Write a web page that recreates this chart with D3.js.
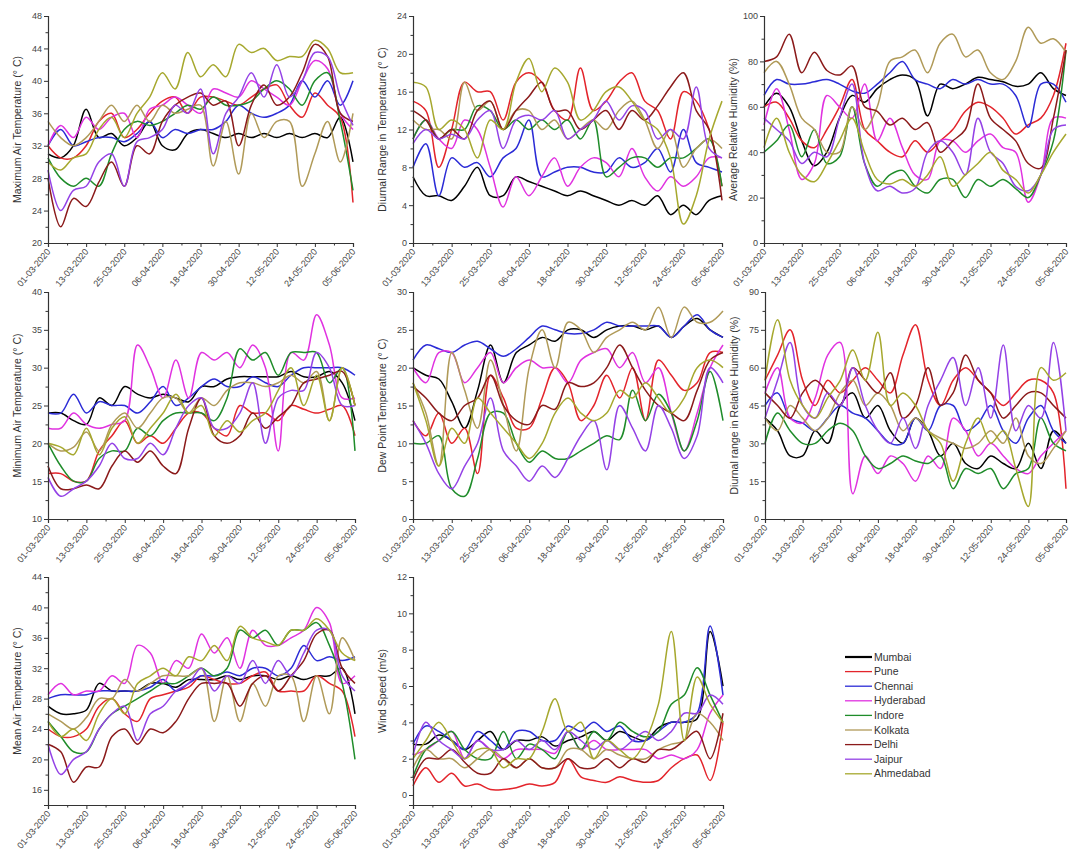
<!DOCTYPE html>
<html><head><meta charset="utf-8">
<script src="https://cdn.jsdelivr.net/npm/d3@7"></script>
<style>body{margin:0;background:#fff} svg{font-family:"Liberation Sans",Arial,sans-serif}</style>
</head><body><svg id="c" width="1073" height="855"></svg>
<script>
// ---- DATA ----
const days = [0,4,8,12,16,20,24,28,32,36,40,44,48,52,56,60,64,68,72,76,80,84,88,92,96]; // days after 01-03-2020
const tickDays = [0,12,24,36,48,60,72,84,96];
const cities = ["Mumbai","Pune","Chennai","Hyderabad","Indore","Kolkata","Delhi","Jaipur","Ahmedabad"];
const colors = ["#000000","#e3242b","#2b2bd6","#e032e0","#1f8c2a","#b09a58","#8b1a1a","#9442e6","#a6a82e"];

const maxTemp = [
 [31,30.5,32,36.5,33,33.5,32,33,35,32,31.5,33.5,34,33.5,33,33.5,33,33.5,33,33.5,33,33.5,33,35.5,30],
 [32,30.5,30.5,32,35,36,33,34,36,37.5,38,36,38,38,37.5,37,38,39,39.5,37,35.5,38.5,37,35.5,25],
 [32,34,32,32.5,33,33,32.5,33.5,35,33,34,33.5,34,34,35,37,36,35.5,36,37,40,38,40,37,40],
 [32,34.5,33,35.5,34,35.5,36,33,36.5,37,38,37,36,39,38.5,38,40,39,38,37,40,42.5,41.5,36,34],
 [30.5,28,27,28,27,31,34,35,34.5,35,36,37,36.5,38,37,37,37.5,39,40,39,37,40,41,35,26.5],
 [35,33,32,33,35,37,35,37,35,37,36,36.5,37,29.5,35,28.5,36,33,35,35,27,31,35,30,36],
 [28,22,25.5,24.5,27.5,30,27,32,31,35,37,38,38.5,37,37.5,32,37,39.5,37,38,41,44.5,43,36,35],
 [29,24,26.5,27,30,31,27,32.5,33,34,37,36,39,31,36,38,41,38,42,38,40,43.5,43,38,34.5],
 [30,29,30.5,31,34,35.5,33,36,38,41,39,43.5,40.5,42,40.5,44.5,43.5,44,42.5,43,43,45,44,41,41]
];
const diurnalTemp = [
 [7,5,5,4.5,6,8,5,5,7,6.5,6,5.5,5,5.5,5,4.5,4,4.5,4,5,3,4,3,4.5,5],
 [15,14,8,12,17,16,16,13,17,18,17,14,13,18.5,14,15,17,18,15,14,11,16,15,12,6],
 [8,10.5,5,9,8,8.5,7,9,10,13,7,7.5,8,8,7.5,7.5,9,8,8.5,10,7.5,12,8.5,8,7.5],
 [11,13,11,10,13,12,8,3.8,7,5,7,9,6,8,9,8.5,7,10,7,5.5,7,6,7,9,9],
 [11,13,11,12,12,14.5,14,12,13,12,13,12,13,11,13,7,8,9,9,8,9,9,10,11,6],
 [13,12,12,11,17,14,15,12,14,14,12,13,11,12,13,12,14,15,13,10,12,8,10,11,10],
 [14,13,11,12,11,14,15,12,14,15.5,17,14,14,12,13,14,12,14,13,14.5,16.5,18,14,12,4.5],
 [10.5,12,11,11.5,11,13,14,10,13,13.5,13,14,11,12,13,15,13,14.5,14,11,12,11,16.5,10,9],
 [17,16.5,12,13,12,9,13,12,17,19.5,16,18.5,17,13,14,16,16.5,15,13,12,9,2,5,11,15]
];
const avgRH = [
 [60,66,60,45,34,40,55,65,62,68,72,74,72,56,70,68,70,73,72,71,69,70,75,68,65],
 [60,62,55,45,42,50,60,72,50,45,40,38,45,40,45,50,58,62,60,55,48,52,55,65,88],
 [65,72,70,70,71,72,70,67,66,70,75,80,72,70,68,72,70,72,70,70,65,51,70,70,62],
 [52,68,50,28,35,65,60,55,70,45,55,42,30,28,45,45,40,45,48,42,40,18,30,55,55],
 [40,45,52,38,50,35,38,60,35,25,30,32,25,22,28,28,20,28,25,28,24,20,30,45,85],
 [75,80,70,55,50,40,40,60,50,60,80,82,85,75,88,92,82,85,75,72,80,95,88,90,84],
 [80,82,92,75,84,76,74,78,60,58,52,55,50,53,40,45,50,70,55,50,45,35,33,55,85],
 [55,50,45,35,40,38,55,70,35,23,25,22,24,40,45,40,30,55,40,35,25,23,30,50,52],
 [42,55,40,30,27,35,45,55,40,28,26,28,25,30,38,25,30,35,40,32,28,22,30,40,48]
];
const minTemp = [
 [24,24,23,22.5,26,25,27.5,26.5,26,26.5,26,25.5,27.5,27.5,28.5,28.8,28.8,28.8,28.8,29.5,28.8,28.8,29.5,28,23],
 [16,16,15,15,19,21,23,20,21,20,22,24,24,22,21,25,24,24,23,25,24.5,24,24.5,25,21],
 [24,24,26.5,24,25.5,25,25,24,25.5,27.5,25,26,27.5,28.5,27.5,27.5,28.8,28,27.5,29,30,30,30,30,29],
 [22,22,24,22.5,22,22.5,23,33,30,26,31,26,32,31,32,30,33,30,19,32,31,37,33,26,26],
 [20,17,15,15,18,19,19,22,21,23,24,24,24,23,26,32.5,31,32,29,32,32,32,28,30,19],
 [20,19,19.5,21.5,19,22.5,24,22,24,26,26,24,26,25,27,28,28,27.5,28,29,28,29.5,23,30,25],
 [17,14,14,14.5,14,17,19,17.5,19,17,16,22,26,21,20,21,24,22,23.5,25,28,28.5,29,29.5,25],
 [15.5,13,14,15,17,20,18,18,20,18.5,22,25,26,22,22,24,28,20,26,27,27,32,30,25,25],
 [20,19.5,18.5,22,18.5,22,23.5,20,22,24,26.5,24,25,21,23,21.5,23,24,27,30,25,29,23,30,25]
];
const dewPoint = [
 [20,19,18.5,15.5,12,17,23,18,22,23,24,23.5,25,25,24,25,25.5,25.5,25,25.5,24,25.5,26.5,25,24],
 [13,11,14,10,12,6,19,16,12,12,16,20,18,13,15,19,16,20,13,21,19,17,18,22,22],
 [21,23,22.5,22,23,23.5,22.5,21.5,22.5,24,25.5,25,24.5,24.5,25,26,25.5,25.5,25.5,25.5,24,25.5,27,25,24],
 [20,18,22,22,18,20,22,18,20,21,20,20,18,21,22,22.5,20,22,18,20,14,9,14,20,23],
 [10,10,11,4,3,8,14,14,10,7.5,9,8,8,9,10,11,10.5,17,13,16.5,14,9,13,19.5,13],
 [18,14,7,22,17,12,21,15,9,20,25,20,26,25,22,24,25,26,25,28,24,28,26,26,27.5],
 [17.5,16,14,13,15,16,19,15,13,12.5,15,14.5,18,17.5,18,20,23,20,17,15,14,13,17,21,22],
 [13,10,6,4,7,10,16,9,7,5,7,5.5,8,11,13,6.5,15,12,9,15,12,8,11,20,18],
 [18,13,7,12,10,16,14,12,10,8,10,14,16,14,13,14,17,16,18,16,14,16,20,21,20]
];
const diurnalRH = [
 [40,35,25,25,35,30,45,50,40,45,35,30,40,35,25,30,22,20,25,22,20,30,20,35,30],
 [55,65,75,55,45,55,50,55,60,55,50,65,77,55,45,55,60,55,50,45,50,55,55,50,12],
 [45,50,40,38,35,40,45,42,40,35,30,30,40,35,45,45,35,38,45,35,30,40,45,35,30],
 [50,60,40,38,48,65,70,10,25,18,25,22,15,25,20,40,35,25,30,25,20,18,25,30,35],
 [30,42,35,30,30,35,38,35,25,20,22,25,23,22,25,12,20,18,20,12,18,20,40,30,27],
 [40,35,45,40,35,40,50,55,45,50,45,35,40,35,32,30,28,30,35,30,40,25,22,28,35],
 [50,45,40,50,55,50,45,60,55,50,58,40,45,60,45,50,65,55,50,40,45,50,50,45,40],
 [40,55,70,45,40,50,45,60,45,35,30,40,28,45,55,64,45,60,40,69,35,45,40,70,35],
 [55,79,55,45,40,48,55,67,55,74,45,50,45,35,30,15,30,40,30,35,20,5,60,55,58]
];
const meanTemp = [
 [27,26,26,26.5,30,29,29,29,30,30,29.5,30.5,30.5,30.5,31,30.5,31,31,30.5,31,30.5,31,31,32,26],
 [24,23,23,24,27,28,26,25,28,28.5,29,29.5,31,30.5,30,30,31,31.5,29,29,29,31,30,29,23],
 [28,28.5,28.5,28.5,29,29,29,29,29.5,30.5,29,30,31,31,31.5,31,32,32,31,32,35,33,33.5,33,33.5],
 [28.5,30,28.5,29,29,31,30,35,34,30,33,32,36.5,34,36,32,37,35,35,36,37,40,38,30,31],
 [25,23,21,21,24,26,27,28,29,30,30,31,32,31,32,37,36,37,35,37,37,38,35,30,20],
 [26,25,24,25.5,28,28,30.5,29,30,31,31,31,32,25,31,25,30,27,31,31,25,31,26,36,33],
 [22,21,17,19,19,23,24,22,24,23.5,25,28,30,30,30,27,30,31,29,31,33,36.5,37,32,30],
 [22,18,20,21,24,26,27,22.5,26,27,29,30,32,29,31,30,33,30,33,31,34,37,37,31,29],
 [25,23,24,22.5,26,28,26,30,31,32,31,33.5,33,35,33,37.5,36,35.5,35,37,37,38.5,37,34,33]
];
const windSpeed = [
 [2.8,2.8,3.3,3,2.5,3,3.5,2.5,3,3,3.2,2.7,3,3.2,3.5,3,3.5,3.2,3,3.7,4,4,4.2,9,6],
 [0.5,1.5,0.7,1.2,0.5,0.6,0.3,0.3,0.4,0.6,0.5,0.7,2,1,0.8,0.7,1,0.8,0.7,0.8,1.5,2,2.2,0.8,4],
 [2.8,3.8,3.5,3,2.5,3.5,3,2.5,3.5,3.5,3,3,3.8,3.5,4,3.5,3.8,3,3,3.5,4,4,4.5,9.3,5.5],
 [2.2,2.5,3,3.5,2,3,2.5,2,2.5,2.5,2.5,2.3,3.5,2.5,3,2.5,2.5,2.5,2.5,2,2.2,2,2.5,4.5,5.5],
 [1,2.5,3,3.5,2.5,2,2,3.5,2,2.8,2.5,2,3.5,2.5,3.5,3,4,3.5,3.2,3.5,5,5.5,7,5.5,4],
 [1.5,2.5,2,2,1.5,2,2.5,2,1.5,2,1.5,1.5,2.5,2.5,2,2.5,2.2,2,2,2.5,2.8,3,4.5,4,3],
 [0.8,2,2,2.5,1.8,1.2,1.2,2,1.5,2,1.5,1.5,2,1.5,1.5,2,1.5,2,1.8,2.5,2.5,3,3.5,2,4.5],
 [2.2,4,3,2.5,2,3,2.5,2.5,3,2.5,3,2.5,3.5,3,2.5,3,2.5,3,3.5,3,3.5,4.5,4.5,5.5,5],
 [2,3,4,3,2,2.5,2.5,1.5,2,2,3.5,5.3,3.5,4,2,3,2.5,2,3,5,9,3,6.5,5,4]
];

// ---- LAYOUT ----
const panels = [
 {data:maxTemp, title:"Maximum Air Temperature (° C)", dom:[20,48], major:d3.range(20,48.1,4), minor:d3.range(22,48,4), box:[48,353,16,243]},
 {data:diurnalTemp, title:"Diurnal Range in Temperature (° C)", dom:[0,24], major:d3.range(0,24.1,4), minor:d3.range(2,24,4), box:[413,722,16,243]},
 {data:avgRH, title:"Average Relative Humidity (%)", dom:[0,100], major:d3.range(0,100.1,20), minor:d3.range(10,100,20), box:[764,1066,16,243]},
 {data:minTemp, title:"Minimum Air Temperature (° C)", dom:[10,40], major:d3.range(10,40.1,5), minor:d3.range(12.5,40,5), box:[48,355,292,519]},
 {data:dewPoint, title:"Dew Point Temperature (° C)", dom:[0,30], major:d3.range(0,30.1,5), minor:d3.range(2.5,30,5), box:[413,723,292,519]},
 {data:diurnalRH, title:"Diurnal range in Relative Humidity (%)", dom:[0,90], major:d3.range(0,90.1,15), minor:d3.range(7.5,90,15), box:[765,1066,292,519]},
 {data:meanTemp, title:"Mean Air Temperature (° C)", dom:[14,44], major:d3.range(16,44.1,4), minor:d3.range(18,44,4), box:[48,355,577,805]},
 {data:windSpeed, title:"Wind Speed (m/s)", dom:[-0.55,12], major:d3.range(0,12.1,2), minor:d3.range(1,12,2), box:[413,723,577,805]}
];

const svg = d3.select("#c");
const toDate = d => new Date(2020, 2, 1 + d);
const fmt = d3.timeFormat("%d-%m-%Y");
const axisCol = "#333";

panels.forEach(p => {
  const [x0,x1,y0,y1] = p.box;
  const x = d3.scaleTime().domain([toDate(0), toDate(96)]).range([x0, x1]);
  const y = d3.scaleLinear().domain(p.dom).range([y1, y0]);
  const g = svg.append("g");

  const line = d3.line()
    .x((v,i) => x(toDate(days[i])))
    .y(v => y(v))
    .curve(d3.curveCatmullRom.alpha(0.5));
  p.data.forEach((s,k) => {
    g.append("path").attr("d", line(s)).attr("fill","none")
      .attr("stroke", colors[k]).attr("stroke-width", 1.5).attr("stroke-linejoin","round");
  });

  // x axis
  const xa = g.append("g").attr("transform",`translate(0,${y1})`)
    .call(d3.axisBottom(x).tickValues(tickDays.map(toDate)).tickFormat(fmt).tickSizeOuter(0).tickSize(4).tickPadding(2));
  xa.selectAll("text").attr("x",0).attr("y",0).attr("dy","0.35em")
    .attr("text-anchor","end").attr("transform","translate(0,7) rotate(-50)")
    .attr("font-size",9).attr("fill","#444").attr("font-family","'Liberation Sans',Arial,sans-serif");
  g.append("g").attr("transform",`translate(0,${y1})`)
    .call(d3.axisBottom(x).tickValues(tickDays.slice(0,-1).map(d=>toDate(d+6))).tickFormat("").tickSizeOuter(0).tickSize(2.5))
    .select(".domain").remove();

  // y axis
  const ya = g.append("g").attr("transform",`translate(${x0},0)`)
    .call(d3.axisLeft(y).tickValues(p.major).tickSizeOuter(0).tickSize(4).tickPadding(2));
  ya.selectAll("text").attr("font-size",9).attr("fill","#444").attr("font-family","'Liberation Sans',Arial,sans-serif");
  g.append("g").attr("transform",`translate(${x0},0)`)
    .call(d3.axisLeft(y).tickValues(p.minor).tickFormat("").tickSizeOuter(0).tickSize(2.5))
    .select(".domain").remove();

  g.selectAll(".domain").attr("stroke",axisCol).attr("stroke-width",1.2);
  g.selectAll(".tick line").attr("stroke",axisCol);

  g.append("text").attr("transform",`translate(${x0-27},${(y0+y1)/2}) rotate(-90)`)
    .attr("text-anchor","middle").attr("font-size",10.5).attr("fill","#333").text(p.title);
});

// legend
const lg = svg.append("g").attr("transform","translate(845,657)");
cities.forEach((c,i) => {
  const row = lg.append("g").attr("transform",`translate(0,${i*14.6})`);
  row.append("line").attr("x1",0).attr("x2",27).attr("y1",0).attr("y2",0)
    .attr("stroke",colors[i]).attr("stroke-width", i===0 ? 2.2 : 1.3);
  row.append("text").attr("x",29).attr("y",0).attr("dy","0.35em")
    .attr("font-size",10.5).attr("fill","#333").text(c);
});
</script>
</body></html>
